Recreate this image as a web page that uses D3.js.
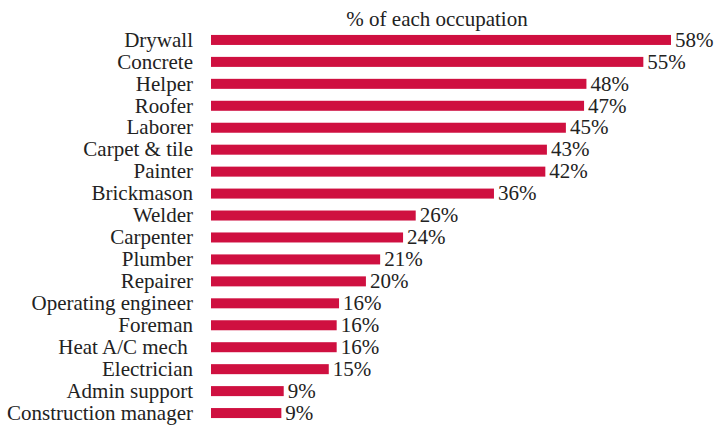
<!DOCTYPE html>
<html><head><meta charset="utf-8">
<script src="https://cdn.jsdelivr.net/npm/d3@7"></script>
<style>body{margin:0;background:#fff}</style>
</head><body>
<script>
const categories = ["Drywall","Concrete","Helper","Roofer","Laborer","Carpet & tile","Painter","Brickmason","Welder","Carpenter","Plumber","Repairer","Operating engineer","Foreman","Heat A/C mech ","Electrician","Admin support","Construction manager"];
const values = [58.2,54.7,47.5,47.2,44.9,42.5,42.3,35.8,25.9,24.3,21.4,19.6,16.2,15.9,15.9,14.9,9.2,8.9];
const valueLabels = ["58%","55%","48%","47%","45%","43%","42%","36%","26%","24%","21%","20%","16%","16%","16%","15%","9%","9%"];
const title = "% of each occupation";

const W = 715, H = 429;
const svg = d3.select("body").append("svg").attr("width", W).attr("height", H);
const font = "'Liberation Serif','Times New Roman',serif";
const fs = 21;
const x = d3.scaleLinear().domain([0, 58.2]).range([211, 671]);
const y = d3.scaleBand().domain(categories).range([23, 430]).paddingInner(0.544).paddingOuter(0.544);

svg.append("g").selectAll("rect").data(values).join("rect")
  .attr("x", x(0)).attr("y", (d,i) => y(categories[i]))
  .attr("width", d => x(d) - x(0)).attr("height", y.bandwidth())
  .attr("fill", "#cf1040");

svg.append("g").selectAll("text").data(values).join("text")
  .attr("x", d => x(d) + 4).attr("y", (d,i) => y(categories[i]) + y.bandwidth()/2)
  .attr("dy", "0.32em").attr("font-family", font).attr("font-size", fs).attr("fill", "#222")
  .text((d,i) => valueLabels[i]);

svg.append("g").selectAll("text").data(categories).join("text")
  .attr("x", 193).attr("y", d => y(d) + y.bandwidth()/2)
  .attr("dy", "0.32em").attr("text-anchor", "end").attr("font-family", font).attr("font-size", fs).attr("fill", "#222")
  .attr("xml:space", "preserve").style("white-space", "pre")
  .text(d => d);

svg.append("text").attr("x", 437).attr("y", 26).attr("text-anchor", "middle")
  .attr("font-family", font).attr("font-size", fs).attr("fill", "#222").text(title);
</script>
</body></html>
